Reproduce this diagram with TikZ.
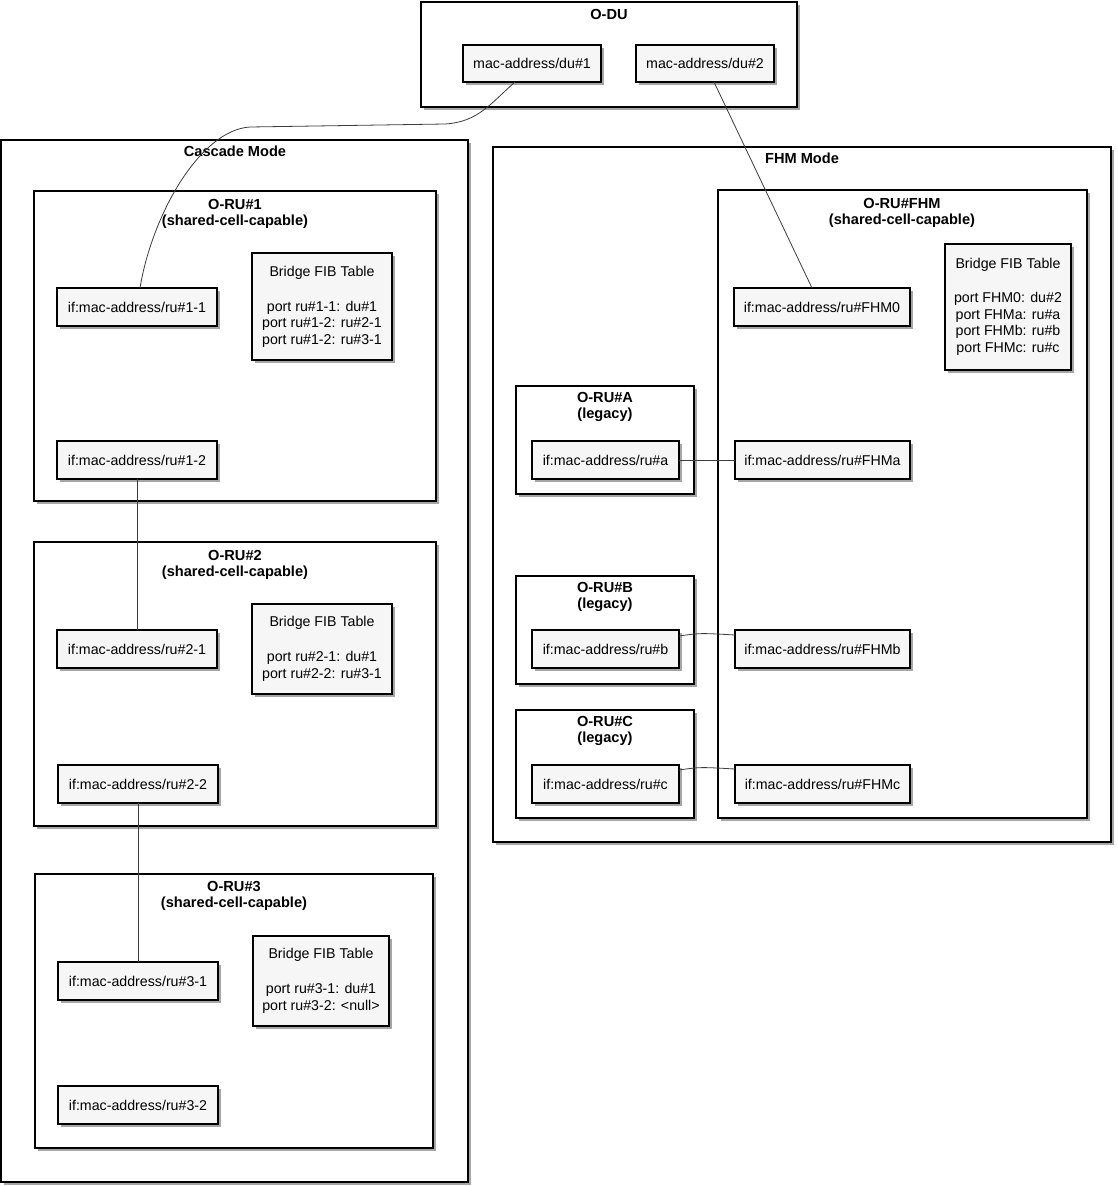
\documentclass[tikz,border=0pt]{standalone}
\usepackage{fontspec}
\setmainfont{Liberation Sans}
\usetikzlibrary{shadows}
\definecolor{boxfill}{RGB}{246,246,246}
\definecolor{wire}{RGB}{60,60,60}
\tikzset{
  shade/.style={drop shadow={shadow xshift=3pt,shadow yshift=-3pt,fill=black,opacity=0.35}},
  frame/.style={draw=black,line width=1.4pt,fill=white,shade,inner sep=0pt,outer sep=0pt},
  ubox/.style={draw=black,line width=1.1pt,fill=boxfill,shade,inner sep=0pt,outer sep=0pt,
    align=center,font=\fontsize{14.2}{16.5}\selectfont},
  ttl/.style={font=\fontsize{14.6}{16.5}\selectfont\bfseries,align=center,inner sep=0pt,anchor=north},
  wirestyle/.style={draw=wire,line width=0.8pt}
}
% rectangle node from its corner coordinates
\newcommand\rbox[7]{%
  \node[#1,minimum width={(#5-#3)*1pt},minimum height={(#6-#4)*1pt}]
    (#2) at ({(#3+#5)/2},{(#4+#6)/2}) {#7};}
\newcommand\rtitle[4]{\node[ttl] (#1) at (#2,#3) {#4};}
\begin{document}
\begin{tikzpicture}[x=1pt,y=-1pt]
\useasboundingbox (0,0) rectangle (1117,1186);

% O-DU
\rbox{frame}{odu}{421}{2}{797}{107}{}
\rtitle{oduT}{609}{9}{O-DU}
\rbox{ubox}{du1}{463}{45}{601}{82}{mac-address/du\#1}
\rbox{ubox}{du2}{636}{45}{774}{82}{mac-address/du\#2}

% Cascade mode
\rbox{frame}{casc}{1}{140}{468}{1182}{}
\rtitle{cascT}{235}{146}{Cascade Mode}

\rbox{frame}{ru1}{34}{191}{436}{501}{}
\rtitle{ru1T}{235}{199}{O-RU\#1\\(shared-cell-capable)}
\rbox{ubox}{ru11}{57}{288}{217}{326}{if:mac-address/ru\#1-1}
\rbox{ubox}{fib1}{252}{253}{392}{360}{Bridge FIB Table\\[18.5pt]port ru\#1-1: du\#1\\port ru\#1-2: ru\#2-1\\port ru\#1-2: ru\#3-1}
\rbox{ubox}{ru12}{57}{441}{217}{479}{if:mac-address/ru\#1-2}

\rbox{frame}{ru2}{34}{542}{436}{826}{}
\rtitle{ru2T}{235}{550}{O-RU\#2\\(shared-cell-capable)}
\rbox{ubox}{ru21}{57}{630}{217}{668}{if:mac-address/ru\#2-1}
\rbox{ubox}{fib2}{252}{604}{392}{694}{Bridge FIB Table\\[18.5pt]port ru\#2-1: du\#1\\port ru\#2-2: ru\#3-1}
\rbox{ubox}{ru22}{58}{765}{218}{803}{if:mac-address/ru\#2-2}

\rbox{frame}{ru3}{35}{874}{433}{1148}{}
\rtitle{ru3T}{234}{881}{O-RU\#3\\(shared-cell-capable)}
\rbox{ubox}{ru31}{58}{962}{218}{1000}{if:mac-address/ru\#3-1}
\rbox{ubox}{fib3}{253}{936}{389}{1026}{Bridge FIB Table\\[18.5pt]port ru\#3-1: du\#1\\port ru\#3-2: <null>}
\rbox{ubox}{ru32}{58}{1086}{218}{1124}{if:mac-address/ru\#3-2}

% FHM mode
\rbox{frame}{fhm}{493}{147}{1111}{842}{}
\rtitle{fhmT}{802}{153}{FHM Mode}

\rbox{frame}{rufhm}{718}{190}{1087}{818}{}
\rtitle{rufhmT}{902}{198}{O-RU\#FHM\\(shared-cell-capable)}
\rbox{ubox}{fhm0}{734}{288}{910}{326}{if:mac-address/ru\#FHM0}
\rbox{ubox}{fibf}{945}{244}{1071}{370}{Bridge FIB Table\\[17.5pt]port FHM0: du\#2\\port FHMa: ru\#a\\port FHMb: ru\#b\\port FHMc: ru\#c}
\rbox{ubox}{fhma}{735}{441}{910}{479}{if:mac-address/ru\#FHMa}
\rbox{ubox}{fhmb}{735}{630}{910}{668}{if:mac-address/ru\#FHMb}
\rbox{ubox}{fhmc}{735}{765}{910}{803}{if:mac-address/ru\#FHMc}

\rbox{frame}{rua}{516}{386}{694}{494}{}
\rtitle{ruaT}{605}{392}{O-RU\#A\\(legacy)}
\rbox{ubox}{ifa}{532}{441}{679}{479}{if:mac-address/ru\#a}

\rbox{frame}{rub}{516}{576}{694}{684}{}
\rtitle{rubT}{605}{582}{O-RU\#B\\(legacy)}
\rbox{ubox}{ifb}{532}{630}{679}{668}{if:mac-address/ru\#b}

\rbox{frame}{ruc}{516}{710}{694}{818}{}
\rtitle{rucT}{605}{716}{O-RU\#C\\(legacy)}
\rbox{ubox}{ifc}{532}{765}{679}{803}{if:mac-address/ru\#c}

% links
\draw[wirestyle] ([xshift=-17pt]du1.south) .. controls (490,104) and (478,122) .. (445,124)
  -- (250,127) .. controls (200,130) and (152,215) .. ([xshift=3pt]ru11.north);
\draw[wirestyle] ([xshift=9pt]du2.south) -- ([xshift=-10pt]fhm0.north);
\draw[wirestyle] (ru12.south) -- (ru21.north);
\draw[wirestyle] (ru22.south) -- (ru31.north);
\draw[wirestyle] (ifa.east) -- (fhma.west);
\draw[wirestyle] ([yshift=13pt]ifb.east) .. controls (700,633) .. ([yshift=14pt]fhmb.west);
\draw[wirestyle] ([yshift=14pt]ifc.east) .. controls (700,767) .. ([yshift=15pt]fhmc.west);
\end{tikzpicture}
\end{document}
